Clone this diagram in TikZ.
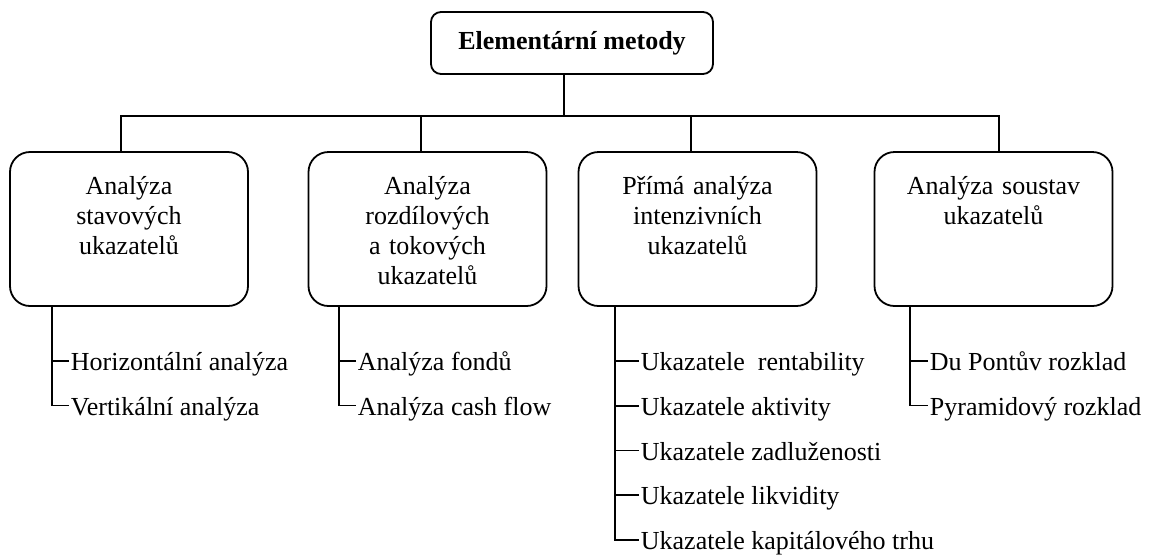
\documentclass[tikz,border=0pt]{standalone}
\usepackage{fontspec}
\setmainfont{Liberation Serif}
\begin{document}
\begin{tikzpicture}[x=1pt,y=-1pt,line width=1.8pt,
  basefont/.style={font=\fontsize{26}{30}\selectfont},
  titlebox/.style={draw,rounded corners=10pt,minimum width=282pt,minimum height=62pt,inner sep=0pt,font=\bfseries\fontsize{26}{30}\selectfont},
  catbox/.style={draw,rounded corners=20pt,minimum width=238pt,minimum height=154pt,inner sep=0pt},
  boxtext/.style={basefont,text width=236pt,align=center,anchor=base,inner sep=0pt},
  item/.style={basefont,anchor=base west,inner sep=1pt}]
\useasboundingbox (0,0) rectangle (1149,558);

\node[titlebox] (top) at (572,43) {Elementární metody};
\node[catbox] (b1) at (129,229) {};
\node[catbox] (b2) at (427.5,229) {};
\node[catbox] (b3) at (697.5,229) {};
\node[catbox] (b4) at (993.5,229) {};

\node[boxtext] (t1) at (129,194) {Analýza\\stavových\\ukazatelů};
\node[boxtext] (t2) at (427.5,194) {Analýza\\rozdílových\\a tokových\\ukazatelů};
\node[boxtext] (t3) at (697.5,194) {Přímá analýza\\intenzivních\\ukazatelů};
\node[boxtext] (t4) at (993.5,194) {Analýza soustav\\ukazatelů};

\coordinate (j) at (564,116);
\draw ([xshift=-8pt]top.south) -- (j);
\draw (j) -| ([xshift=-8pt]b1.north);
\draw (j) -| ([xshift=-6.5pt]b2.north);
\draw (j) -| ([xshift=-6.5pt]b3.north);
\draw (j) -| ([xshift=5.5pt]b4.north);

% box 1 items
\node[item] (s11) at (69,370.5) {Horizontální analýza};
\node[item] (s12) at (69,415) {Vertikální analýza};
\draw ([yshift=9.5pt]s11.base west) -- ++(-17,0);
\draw ([xshift=-77pt]b1.south) |- ([yshift=9.5pt]s12.base west);

% box 2 items
\node[item] (s21) at (356,370.5) {Analýza fondů};
\node[item] (s22) at (356,415) {Analýza cash flow};
\draw ([yshift=9.5pt]s21.base west) -- ++(-17,0);
\draw ([xshift=-88.5pt]b2.south) |- ([yshift=9.5pt]s22.base west);

% box 3 items
\node[item] (s31) at (639,370.5) {Ukazatele~ rentability};
\node[item] (s32) at (639,415.25) {Ukazatele aktivity};
\node[item] (s33) at (639,460) {Ukazatele zadluženosti};
\node[item] (s34) at (639,504.75) {Ukazatele likvidity};
\node[item] (s35) at (639,549.5) {Ukazatele kapitálového trhu};
\draw ([yshift=9.5pt]s31.base west) -- ++(-24,0);
\draw ([yshift=9.5pt]s32.base west) -- ++(-24,0);
\draw ([yshift=9.5pt]s33.base west) -- ++(-24,0);
\draw ([yshift=9.5pt]s34.base west) -- ++(-24,0);
\draw ([xshift=-82.5pt]b3.south) |- ([yshift=9.5pt]s35.base west);

% box 4 items
\node[item] (s41) at (928,370.5) {Du Pontův rozklad};
\node[item] (s42) at (928,415) {Pyramidový rozklad};
\draw ([yshift=9.5pt]s41.base west) -- ++(-18,0);
\draw ([xshift=-83.5pt]b4.south) |- ([yshift=9.5pt]s42.base west);
\end{tikzpicture}
\end{document}
